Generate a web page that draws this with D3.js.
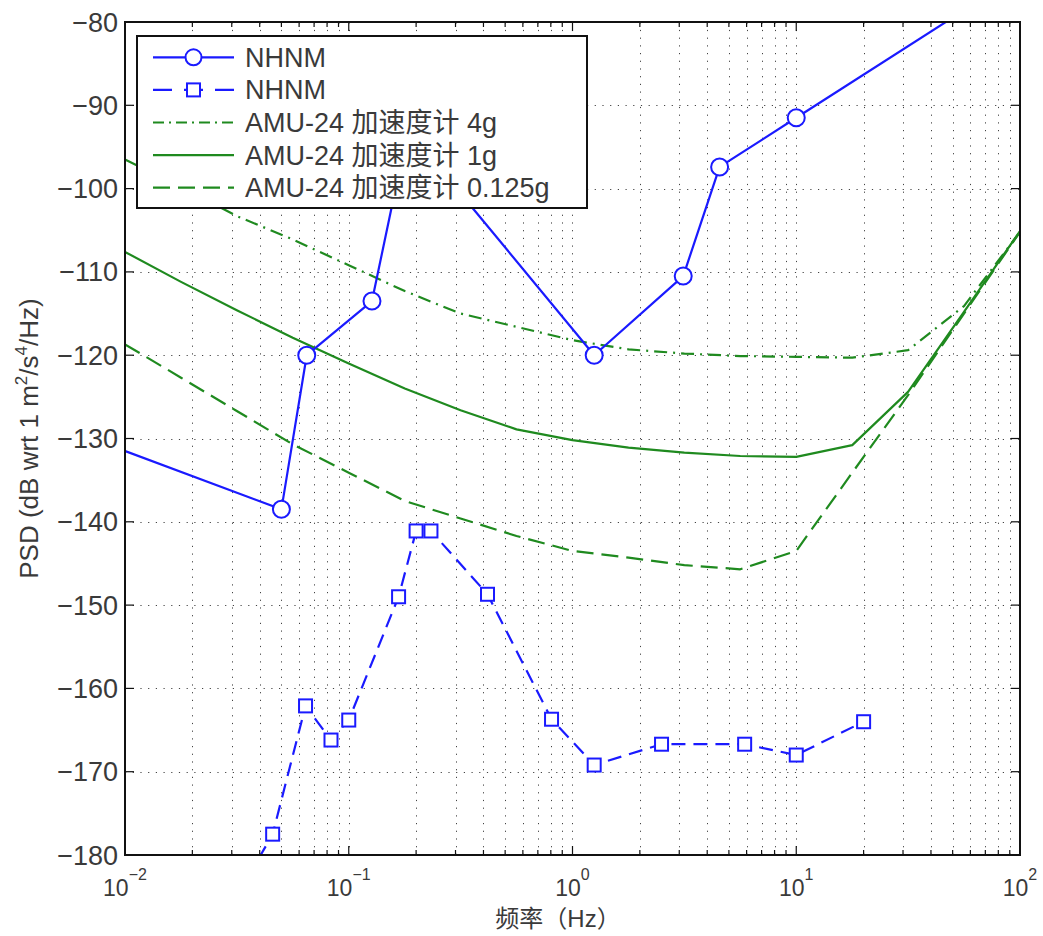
<!DOCTYPE html>
<html>
<head>
  <meta charset="utf-8">
  <script src="https://d3js.org/d3.v7.min.js"></script>
  <style>
  body { margin: 0; background: #fff; }
  text { font-family: "Liberation Sans", Arial, "Noto Sans CJK SC", sans-serif; fill: #3a3a3a; }
  </style>
</head>
<body>
  <script>
  var w = 1043;
  var h = 936;
  var margin = {top: 22, right: 23, bottom: 81, left: 125};

  //NHNM (circles) - frequency in Hz and PSD in dB
  var nhnmFreq = [0.00282, 0.05, 0.0649, 0.127, 0.159, 0.217, 0.263, 1.25, 3.125, 4.545, 10, 100];
  var nhnmPsd = [-126.0, -138.5, -120.0, -113.5, -101.0, -96.5, -98.0, -120.0, -110.5, -97.4, -91.5, -74.3];

  //second "NHNM" curve (squares, dashed)
  var nlnmFreq = [0.0316, 0.0457, 0.0641, 0.0833, 0.1, 0.167, 0.2, 0.233, 0.417, 0.806, 1.25, 2.5, 5.88, 10, 20];
  var nlnmPsd = [-185.0, -177.5, -162.1, -166.2, -163.8, -149.0, -141.1, -141.1, -148.7, -163.7, -169.2, -166.7, -166.7, -168.0, -164.0];

  //AMU-24 accelerometer self noise, three ranges
  var amuFreq = [0.01, 0.0178, 0.0316, 0.0562, 0.1, 0.178, 0.316, 0.562, 1, 1.78, 3.16, 5.62, 10, 17.8, 31.6, 56.2, 100];
  var amu4g = [-96.5, -99.8, -103.3, -106.1, -109.2, -112.3, -115.0, -116.6, -118.2, -119.3, -119.8, -120.1, -120.2, -120.3, -119.4, -114.1, -105.2];
  var amu1g = [-107.6, -111.2, -114.6, -117.9, -121.0, -124.0, -126.6, -128.9, -130.2, -131.1, -131.7, -132.1, -132.2, -130.8, -124.4, -114.8, -105.1];
  var amu0125g = [-118.7, -122.7, -126.7, -130.7, -134.1, -137.5, -139.6, -141.7, -143.5, -144.3, -145.2, -145.7, -143.5, -134.1, -124.8, -115.0, -105.2];

  //Axis ticks
  var xMajor = [0.01, 0.1, 1, 10, 100];
  var xExp = ["\u22122", "\u22121", "0", "1", "2"];
  var yTicks = [-80, -90, -100, -110, -120, -130, -140, -150, -160, -170, -180];

  var legendLabels = ["NHNM", "NHNM", "AMU-24 加速度计 4g", "AMU-24 加速度计 1g", "AMU-24 加速度计 0.125g"];

  var blue = "#1a1aff";
  var green = "#1f8a1f";

  var x = d3.scaleLog().domain([0.01, 100]).range([margin.left, w - margin.right]);
  var y = d3.scaleLinear().domain([-180, -80]).range([h - margin.bottom, margin.top]);

  var svg = d3.select("body").append("svg")
    .attr("width", w)
    .attr("height", h);

  svg.append("defs").append("clipPath")
    .attr("id", "plotclip")
    .append("rect")
    .attr("x", x.range()[0])
    .attr("y", y.range()[1])
    .attr("width", x.range()[1] - x.range()[0])
    .attr("height", y.range()[0] - y.range()[1]);

  //minor log ticks
  var xMinor = [];
  xMajor.slice(0, 4).forEach(function(d){
    for(var k = 2; k <= 9; k++) xMinor.push(d * k);
  });

  //Grid (dotted)
  var grid = svg.append("g").attr("stroke", "#444").attr("stroke-width", 1).attr("stroke-dasharray", "1.2,6.5");
  grid.selectAll("line.gx")
    .data(xMajor.slice(1, 4).concat(xMinor))
    .enter().append("line")
      .attr("x1", function(d){ return Math.round(x(d)) + 0.5; })
      .attr("x2", function(d){ return Math.round(x(d)) + 0.5; })
      .attr("y1", y.range()[0])
      .attr("y2", y.range()[1]);
  grid.selectAll("line.gy")
    .data(yTicks.slice(1, 10))
    .enter().append("line")
      .attr("y1", function(d){ return Math.round(y(d)) + 0.5; })
      .attr("y2", function(d){ return Math.round(y(d)) + 0.5; })
      .attr("x1", x.range()[0])
      .attr("x2", x.range()[1]);

  //Curves
  var plot = svg.append("g").attr("clip-path", "url(#plotclip)");

  function drawLine(freq, psd, color, dash){
    var pts = freq.map(function(f, i){ return [x(f), y(psd[i])]; });
    plot.append("path")
      .attr("d", d3.line()(pts))
      .attr("fill", "none")
      .attr("stroke", color)
      .attr("stroke-width", 2.2)
      .attr("stroke-dasharray", dash)
      .attr("stroke-linejoin", "round");
    return pts;
  }

  drawLine(amuFreq, amu4g, green, "13,6,2,6");
  drawLine(amuFreq, amu1g, green, null);
  drawLine(amuFreq, amu0125g, green, "17,8");

  var p1 = drawLine(nhnmFreq, nhnmPsd, blue, null);
  plot.selectAll("circle.nh")
    .data(p1)
    .enter().append("circle")
      .attr("cx", function(d){ return d[0]; })
      .attr("cy", function(d){ return d[1]; })
      .attr("r", 8.5)
      .attr("fill", "#fff")
      .attr("stroke", blue)
      .attr("stroke-width", 2);

  var p2 = drawLine(nlnmFreq, nlnmPsd, blue, "14,8");
  plot.selectAll("rect.nl")
    .data(p2)
    .enter().append("rect")
      .attr("x", function(d){ return d[0] - 6.5; })
      .attr("y", function(d){ return d[1] - 6.5; })
      .attr("width", 13)
      .attr("height", 13)
      .attr("fill", "#fff")
      .attr("stroke", blue)
      .attr("stroke-width", 2);

  //Ticks (inward, all four sides)
  var ticks = svg.append("g").attr("stroke", "#111").attr("stroke-width", 1.2);
  [y.range()[0], y.range()[1]].forEach(function(yy, side){
    var dir = side == 0 ? -1 : 1;
    ticks.selectAll(null)
      .data(xMajor.map(function(d){ return {v: d, len: 9}; }).concat(xMinor.map(function(d){ return {v: d, len: 5}; })))
      .enter().append("line")
        .attr("x1", function(d){ return x(d.v); })
        .attr("x2", function(d){ return x(d.v); })
        .attr("y1", yy)
        .attr("y2", function(d){ return yy + dir * d.len; });
  });
  [x.range()[0], x.range()[1]].forEach(function(xx, side){
    var dir = side == 0 ? 1 : -1;
    ticks.selectAll(null)
      .data(yTicks)
      .enter().append("line")
        .attr("y1", function(d){ return y(d); })
        .attr("y2", function(d){ return y(d); })
        .attr("x1", xx)
        .attr("x2", xx + dir * 9);
  });

  //Axes box
  svg.append("rect")
    .attr("x", x.range()[0])
    .attr("y", y.range()[1])
    .attr("width", x.range()[1] - x.range()[0])
    .attr("height", y.range()[0] - y.range()[1])
    .attr("fill", "none")
    .attr("stroke", "#111")
    .attr("stroke-width", 2);

  //Tick labels
  svg.selectAll("text.yt")
    .data(yTicks)
    .enter().append("text")
      .attr("x", x.range()[0] - 7)
      .attr("y", function(d){ return y(d) + 9.5; })
      .attr("text-anchor", "end")
      .style("font-size", "27px")
      .text(function(d){ return "\u2212" + Math.abs(d); });

  var xt = svg.selectAll("text.xt")
    .data(xMajor)
    .enter().append("text")
      .attr("x", function(d){ return x(d); })
      .attr("y", 896)
      .attr("text-anchor", "middle")
      .style("font-size", "23px");
  xt.append("tspan").text("10");
  xt.append("tspan")
    .attr("dy", -16)
    .style("font-size", "16px")
    .text(function(d, i){ return xExp[i]; });

  //Axis labels
  svg.append("text")
    .attr("x", 558)
    .attr("y", 927)
    .attr("text-anchor", "middle")
    .style("font-size", "24px")
    .text("频率（Hz）");

  var yl = svg.append("text")
    .attr("transform", "translate(38," + ((y.range()[0] + y.range()[1]) / 2) + ")rotate(-90)")
    .attr("text-anchor", "middle")
    .style("font-size", "26px");
  yl.append("tspan").text("PSD (dB wrt 1 m");
  yl.append("tspan").attr("dy", -11).style("font-size", "17px").text("2");
  yl.append("tspan").attr("dy", 11).text("/s");
  yl.append("tspan").attr("dy", -11).style("font-size", "17px").text("4");
  yl.append("tspan").attr("dy", 11).text("/Hz)");

  //Legend
  var legend = svg.append("g");
  legend.append("rect")
    .attr("x", 137)
    .attr("y", 36)
    .attr("width", 450)
    .attr("height", 172)
    .attr("fill", "#fff")
    .attr("stroke", "#111")
    .attr("stroke-width", 2);

  var styles = [
    {color: blue, dash: null, marker: "circle"},
    {color: blue, dash: "19,12", marker: "square"},
    {color: green, dash: "11,5,2,5", marker: null},
    {color: green, dash: null, marker: null},
    {color: green, dash: "17,8", marker: null}
  ];

  var rows = legend.selectAll("g.row")
    .data(legendLabels)
    .enter().append("g")
      .attr("transform", function(d, i){ return "translate(0," + (57.3 + i * 32.6) + ")"; });

  rows.append("line")
    .attr("x1", 153)
    .attr("x2", 234)
    .attr("stroke", function(d, i){ return styles[i].color; })
    .attr("stroke-width", 2.2)
    .attr("stroke-dasharray", function(d, i){ return styles[i].dash; });

  rows.filter(function(d, i){ return styles[i].marker == "circle"; })
    .append("circle")
      .attr("cx", 193.5).attr("r", 8)
      .attr("fill", "#fff").attr("stroke", blue).attr("stroke-width", 2);

  rows.filter(function(d, i){ return styles[i].marker == "square"; })
    .append("rect")
      .attr("x", 187).attr("y", -6.5).attr("width", 13).attr("height", 13)
      .attr("fill", "#fff").attr("stroke", blue).attr("stroke-width", 2);

  rows.append("text")
    .attr("x", 245)
    .attr("y", 9.5)
    .style("font-size", "27px")
    .text(function(d){ return d; });
  </script>
</body>
</html>
